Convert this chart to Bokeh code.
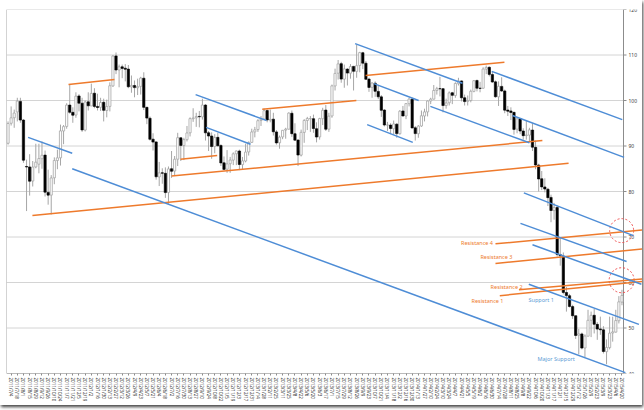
import pandas as pd
from bokeh.plotting import figure
from bokeh.models import ColumnDataSource, FixedTicker, Range1d, Arrow
from bokeh.embed import file_html
from bokeh.resources import INLINE
from bokeh.core.properties import value

# ---------------- data (weekly candles) ----------------
week_start = "2011-06-27"
n_weeks = 200
dates = pd.date_range(week_start, periods=n_weeks, freq="7D")
date_labels = [f"{d.year}/{d.month}/{d.day}" for d in dates]

opens = [
    90.6, 95.0, 96.2, 97.5, 99.8, 95.7, 85.5, 85.4, 82.3, 85.4,
    86.0, 87.2, 88.0, 79.8, 79.2, 83.0, 86.8, 87.4, 93.3, 94.3,
    99.0, 97.4, 96.8, 101.0, 99.4, 93.5, 99.7,
    98.8, 101.6, 98.7, 98.5, 99.6, 97.8, 98.7, 103.2, 109.8, 106.7,
    107.4, 107.1, 106.9, 103.0, 103.3, 102.8, 103.1, 104.9, 98.5, 96.1,
    91.5, 90.9, 83.2, 84.1, 84.0, 79.8, 85.0, 84.5, 87.1, 91.8,
    90.1, 91.4, 92.9, 96.0, 96.2, 96.5, 96.4, 99.0, 92.9, 92.2,
    89.9, 91.9, 90.1, 86.3, 84.9, 86.1, 86.9, 88.3, 88.9, 85.9,
    86.7, 88.7, 90.8,
    93.1, 93.6, 95.6, 95.9, 97.8, 95.7, 95.9, 93.1, 90.7, 92.0,
    93.5, 93.7, 97.2, 92.7, 91.3, 88.0, 93.0, 95.6, 96.0, 96.0,
    93.8, 92.0, 96.0, 97.9, 93.7, 96.6, 103.2, 106.0, 108.1, 104.7,
    106.9, 106.0, 107.5, 106.4, 107.7, 110.5, 108.2, 104.7, 102.9, 103.8,
    102.0, 100.8, 97.9, 94.6, 94.6, 93.8, 94.8, 92.7, 97.7, 96.6,
    99.3, 100.3,
    94.0, 92.7, 94.4, 96.6, 97.5, 99.9, 100.3, 102.2, 102.6, 102.6,
    98.9, 99.5, 101.7, 101.1, 103.7, 104.3, 100.6, 99.8, 100.0, 102.0,
    104.4, 102.7, 102.7, 106.9, 107.3, 105.7, 104.1, 100.8, 103.1, 102.1,
    97.9, 97.7, 97.4, 93.7, 96.0, 93.3, 92.3, 92.4, 93.5, 89.7,
    85.8, 82.8, 81.0, 80.5, 78.7, 75.8, 76.5, 66.1, 65.8, 57.8,
    57.1, 54.7,
    52.7, 48.4, 48.7, 45.6, 48.2, 51.7, 52.8, 50.8, 49.8, 49.6,
    44.8, 45.7, 48.9, 49.1, 51.6, 55.7,
]
highs = [
    95.4, 98.7, 98.0, 100.6, 100.6, 95.9, 87.0, 88.2, 86.7, 90.5,
    90.5, 91.0, 89.0, 84.8, 83.6, 87.5, 89.2, 94.7, 94.6, 99.4,
    103.4, 98.5, 101.8, 101.4, 100.6, 100.0, 101.8,
    103.7, 102.7, 101.5, 100.6, 100.4, 100.2, 104.0, 109.95, 110.55, 107.9,
    107.9, 108.0, 107.8, 105.5, 104.4, 104.8, 105.2, 106.2, 98.6, 96.5,
    92.8, 91.0, 86.5, 85.1, 85.3, 85.5, 88.9, 87.8, 92.9, 91.9,
    91.8, 94.4, 96.3, 98.3, 97.3, 97.7, 100.4, 99.2, 93.3, 93.0,
    92.6, 92.9, 90.4, 87.7, 89.1, 87.6, 88.6, 89.0, 89.2, 87.6,
    90.5, 91.0, 93.8,
    94.2, 95.9, 96.6, 98.24, 98.0, 98.0, 97.3, 93.5, 92.3, 93.5,
    94.0, 97.4, 97.8, 95.0, 91.5, 93.6, 95.9, 96.4, 96.6, 96.9,
    95.2, 96.2, 98.4, 99.0, 97.3, 103.5, 107.0, 108.9, 108.5, 107.9,
    107.1, 108.0, 107.6, 112.24, 110.7, 110.7, 108.7, 105.0, 104.0, 104.2,
    103.2, 101.2, 98.1, 95.3, 95.0, 95.6, 95.0, 97.9, 98.8, 99.4,
    100.5, 100.6,
    94.4, 94.6, 97.8, 98.2, 100.0, 100.6, 103.4, 103.0, 105.2, 102.7,
    100.4, 102.0, 101.9, 104.0, 104.99, 104.4, 101.3, 101.1, 102.4, 104.5,
    104.6, 104.1, 107.3, 107.68, 107.5, 106.4, 104.4, 104.2, 105.1, 102.4,
    98.8, 98.5, 97.5, 96.1, 96.0, 93.9, 95.6, 94.0, 95.0, 91.2,
    86.1, 84.5, 82.9, 80.8, 79.3, 77.5, 76.9, 69.9, 66.6, 59.0,
    57.5, 55.1,
    52.7, 49.8, 49.0, 48.6, 54.0, 53.6, 54.2, 51.3, 52.5, 50.4,
    47.5, 52.5, 52.5, 54.0, 57.0, 58.4,
]
lows = [
    90.3, 94.5, 94.0, 95.4, 95.1, 86.3, 75.7, 79.1, 81.1, 85.1,
    84.0, 85.0, 78.9, 77.1, 74.95, 81.6, 84.9, 85.7, 90.4, 93.8,
    97.1, 95.1, 96.2, 97.6, 93.1, 93.2, 97.8,
    98.8, 98.3, 97.8, 97.7, 95.4, 96.3, 97.6, 103.0, 105.8, 102.9,
    104.9, 104.2, 102.7, 101.7, 100.7, 101.2, 101.3, 97.9, 94.8, 91.2,
    89.0, 82.6, 81.2, 81.7, 78.6, 77.3, 83.0, 83.4, 85.6, 86.7,
    86.9, 91.0, 92.1, 95.3, 94.2, 94.1, 95.8, 91.2, 88.9, 87.2,
    88.4, 89.9, 85.6, 84.8, 84.1, 84.1, 85.8, 85.8, 84.7, 84.9,
    86.4, 87.9, 90.7,
    91.9, 93.1, 94.4, 95.8, 95.2, 95.2, 92.3, 90.3, 89.4, 91.5,
    91.6, 93.6, 92.0, 91.2, 85.6, 87.7, 90.7, 93.5, 93.1, 92.9,
    90.8, 91.4, 94.6, 93.3, 93.1, 96.2, 102.2, 104.6, 103.9, 102.8,
    103.3, 104.8, 102.2, 105.0, 106.2, 106.9, 104.5, 101.9, 100.6, 100.8,
    100.3, 96.4, 94.3, 93.3, 92.6, 92.5, 91.8, 92.5, 96.5, 95.9,
    98.7, 93.9,
    91.2, 91.8, 94.2, 95.4, 96.5, 99.2, 100.2, 101.3, 100.9, 97.4,
    98.2, 98.9, 99.2, 100.6, 103.3, 99.8, 98.9, 98.9, 99.6, 101.8,
    102.0, 101.8, 102.6, 105.8, 105.3, 103.9, 100.6, 98.8, 101.9, 97.2,
    96.6, 95.7, 92.5, 92.8, 92.6, 91.4, 91.4, 91.1, 88.9, 84.9,
    80.0, 80.3, 79.8, 76.8, 73.25, 73.8, 65.7, 63.7, 57.4, 53.6,
    54.5, 52.0,
    47.6, 44.2, 45.3, 43.6, 48.2, 48.0, 48.8, 47.4, 48.5, 44.4,
    42.03, 45.3, 47.0, 49.0, 51.0, 55.0,
]
closes = [
    94.94, 96.20, 97.24, 99.87, 95.70, 86.88, 85.38, 82.26, 85.37, 86.45,
    87.24, 87.96, 79.85, 79.20, 82.98, 86.80, 87.40, 93.32, 94.26, 98.99,
    97.41, 96.77, 100.96, 99.41, 93.53, 99.68, 98.83,
    101.56, 98.70, 98.46, 99.56, 97.84, 98.67, 103.24, 109.77, 106.70, 107.40,
    107.06, 106.87, 103.02, 103.31, 102.83, 103.05, 104.93, 98.49, 96.13, 91.48,
    90.86, 83.23, 84.10, 84.03, 79.76, 84.96, 84.45, 87.10, 91.83, 90.13,
    91.40, 92.87, 96.01, 96.15, 96.47, 96.42, 99.00, 92.89, 92.19, 89.88,
    91.86, 90.05, 86.28, 84.86, 86.07, 86.92, 88.28, 88.91, 85.93, 86.73,
    88.66, 90.80, 93.09,
    93.56, 95.56, 95.88, 97.77, 95.72, 95.86, 93.13, 90.68, 91.95, 93.45,
    93.71, 97.23, 92.70, 91.29, 88.01, 93.00, 95.61, 96.04, 96.02, 93.84,
    91.97, 96.03, 97.85, 93.69, 96.56, 103.22, 105.95, 108.05, 104.70, 106.94,
    106.03, 107.46, 106.42, 107.65, 110.53, 108.21, 104.67, 102.87, 103.84, 102.02,
    100.81, 97.85, 94.61, 94.60, 93.84, 94.84, 92.72, 97.65, 96.60, 99.32,
    100.32, 93.96,
    92.72, 94.37, 96.64, 97.49, 99.88, 100.30, 102.20, 102.59, 102.58, 98.89,
    99.46, 101.67, 101.14, 103.74, 104.30, 100.60, 99.76, 99.99, 102.02, 104.35,
    102.71, 102.66, 106.91, 107.26, 105.74, 104.06, 100.83, 103.13, 102.09, 97.88,
    97.65, 97.35, 93.65, 95.96, 93.29, 92.27, 92.41, 93.54, 89.74, 85.82,
    82.75, 81.01, 80.54, 78.65, 75.82, 76.51, 66.15, 65.84, 57.81, 57.13,
    54.73, 52.69,
    48.36, 48.69, 45.59, 48.24, 51.69, 52.78, 50.81, 49.76, 49.61, 44.84,
    45.72, 48.87, 49.14, 51.64, 55.74, 57.15,
]

y_ticks = [40, 50, 60, 70, 80, 90, 100, 110, 120]
y_tick_labels = [str(t) for t in y_ticks]

# trend lines: (start week index, start price, end week index, end price)
orange_x0 = [19.6, 7.9, 53.0, 55.9, 82.4, 115.9, 158.0, 158.0, 165.6, 159.4]
orange_y0 = [103.5, 74.7, 83.4, 87.1, 98.1, 105.5, 68.5, 64.2, 58.4, 57.1]
orange_x1 = [34.5, 181.7, 173.2, 67.8, 112.9, 160.9, 206.3, 206.3, 206.3, 206.3]
orange_y1 = [104.6, 86.2, 91.2, 87.9, 100.0, 108.4, 71.6, 67.4, 60.8, 60.3]

blue_x0 = [6.5, 20.8, 60.8, 64.2, 112.5, 118.6, 116.4, 136.9, 156.8, 163.5, 167.2, 166.1, 170.0, 168.8]
blue_y0 = [91.9, 85.0, 101.3, 94.1, 112.5, 103.7, 94.7, 98.7, 106.4, 96.7, 79.7, 73.0, 68.3, 59.6]
blue_x1 = [20.8, 200.1, 83.8, 78.6, 147.3, 133.1, 131.2, 169.0, 199.1, 199.7, 202.7, 200.5, 205.3, 204.5]
blue_y1 = [88.4, 40.2, 95.6, 90.4, 103.8, 100.0, 90.8, 90.7, 95.8, 87.5, 70.3, 64.6, 59.6, 50.8]

# dashed circles (centre week index, centre price)
circle_x = [198.9, 198.9]
circle_y = [71.4, 60.5]

# annotation texts
res_text = ["Resistance 4", "Resistance 3", "Resistance 2", "Resistance 1"]
res_x = [157.2, 163.5, 166.8, 160.6]
res_y = [68.6, 65.6, 59.1, 56.0]
sup_text = ["Support 1", "Major Support"]
sup_x = [168.7, 171.6]
sup_y = [56.2, 43.1]

# ---------------- styling / layout ----------------
ORANGE = "#EE7A2C"
BLUE = "#4E8DD6"
AXIS = "#8c8c8c"
FONT = "Noto Sans"

W, H = 642, 405
ML, MT, MB = 6, 9, 32
plot_px = 617                     # pixels covered by the 200 weekly slots
px_per_week = plot_px / n_weeks
x_end = -0.5 + (W - ML) / px_per_week
x_axis_end = n_weeks - 0.5
y_min, y_max = 40, 120

p = figure(width=W, height=H, output_backend="svg", toolbar_location=None,
           x_range=Range1d(-0.5, x_end), y_range=Range1d(y_min, y_max),
           min_border_left=ML, min_border_right=0, min_border_top=MT, min_border_bottom=MB)
p.styles = {"box-shadow": "1px 2px 3px rgba(0,0,0,0.75)"}
p.outline_line_color = None
p.background_fill_color = "white"
p.border_fill_color = "white"
p.xgrid.visible = False
p.ygrid.visible = False
p.yaxis.visible = False

xa = p.xaxis[0]
tick_idx = list(range(1, n_weeks, 2))
xa.ticker = FixedTicker(ticks=tick_idx)
xa.major_label_overrides = {i: date_labels[i] for i in tick_idx}
xa.major_label_orientation = "vertical"
xa.major_label_text_font_size = "4.5px"
xa.major_label_text_font = FONT
xa.major_label_text_color = "#333333"
xa.axis_line_color = None
xa.major_tick_line_color = AXIS
xa.major_tick_out = 2
xa.major_tick_in = 0
xa.minor_tick_line_color = None
xa.major_label_standoff = 2

# gridlines, y axis (right side of the weekly slots) and frame lines
n_t = len(y_ticks)
p.segment(x0=[-0.5] * n_t, y0=y_ticks, x1=[x_axis_end] * n_t, y1=y_ticks,
          line_color="#d4d4d4", line_width=1)
p.segment(x0=[-0.5, x_axis_end, -0.5], y0=[y_min, y_min, y_min],
          x1=[-0.5, x_axis_end, x_axis_end], y1=[y_max, y_max, y_min],
          line_color=["#a8a8a8", AXIS, AXIS], line_width=1)
tick_len = 3 / px_per_week
p.segment(x0=[x_axis_end] * n_t, y0=y_ticks, x1=[x_axis_end + tick_len] * n_t, y1=y_ticks,
          line_color=AXIS, line_width=1)
p.text(x=[x_axis_end + 5 / px_per_week] * n_t, y=y_ticks, text=y_tick_labels,
       text_align="left", text_baseline="middle", text_font=value(FONT),
       text_font_size="5px", text_color="#404040")

# ---------------- candles ----------------
idx = list(range(n_weeks))
up = [c >= o for o, c in zip(opens, closes)]
src = ColumnDataSource(dict(x=idx, o=opens, h=highs, l=lows, c=closes))
up_src = ColumnDataSource(dict(x=[i for i in idx if up[i]],
                               o=[opens[i] for i in idx if up[i]],
                               c=[closes[i] for i in idx if up[i]]))
dn_src = ColumnDataSource(dict(x=[i for i in idx if not up[i]],
                               o=[opens[i] for i in idx if not up[i]],
                               c=[closes[i] for i in idx if not up[i]]))

p.segment(x0="x", y0="l", x1="x", y1="h", source=src, line_color="#a6a6a6", line_width=1)
p.vbar(x="x", width=0.7, bottom="o", top="c", source=up_src,
       fill_color="white", line_color="#a6a6a6", line_width=0.8)
p.vbar(x="x", width=0.75, bottom="c", top="o", source=dn_src,
       fill_color="black", line_color="black", line_width=0.6)

# ---------------- trend lines ----------------
osrc = ColumnDataSource(dict(x0=orange_x0, y0=orange_y0, x1=orange_x1, y1=orange_y1))
bsrc = ColumnDataSource(dict(x0=blue_x0, y0=blue_y0, x1=blue_x1, y1=blue_y1))
p.add_layout(Arrow(end=None, source=osrc, x_start="x0", y_start="y0", x_end="x1", y_end="y1",
                   line_color=ORANGE, line_width=1.5))
p.add_layout(Arrow(end=None, source=bsrc, x_start="x0", y_start="y0", x_end="x1", y_end="y1",
                   line_color=BLUE, line_width=1.5))

# dashed circles
p.scatter(x=circle_x, y=circle_y, marker="circle", size=[24, 25], fill_color=None,
          line_color="#F05050", line_dash="2 2", line_width=1)

# ---------------- texts ----------------
p.text(x=res_x, y=res_y, text=res_text, text_align="right", text_baseline="middle",
       text_font=value(FONT), text_font_size="5.5px", text_color=ORANGE)
p.text(x=sup_x, y=sup_y, text=sup_text, text_align="left", text_baseline="middle",
       text_font=value(FONT), text_font_size="5.5px", text_color="#5B9BD5")

open("out.html", "w").write(file_html(p, INLINE))
